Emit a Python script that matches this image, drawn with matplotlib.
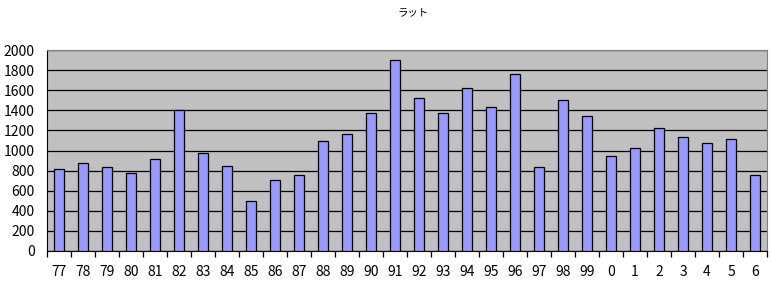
import matplotlib
matplotlib.use("Agg")
import matplotlib.pyplot as plt
import numpy as np

plt.rcParams['font.family'] = ['Noto Sans CJK JP', 'DejaVu Sans']

title = "ラット"
years = ["77", "78", "79", "80", "81", "82", "83", "84", "85", "86", "87", "88", "89", "90",
         "91", "92", "93", "94", "95", "96", "97", "98", "99", "0", "1", "2", "3", "4", "5", "6"]
values = [820, 880, 840, 780, 920, 1400, 980, 850, 500, 710, 760, 1090, 1160, 1370,
          1900, 1520, 1370, 1620, 1430, 1760, 840, 1500, 1340, 950, 1020, 1220, 1130, 1070, 1110, 760]
yticks = [0, 200, 400, 600, 800, 1000, 1200, 1400, 1600, 1800, 2000]

fig = plt.figure(figsize=(7.72, 2.85), dpi=100)
ax = fig.add_axes([47/772, 1 - 251/285, 720/772, 201/285])
ax.set_facecolor('#c0c0c0')
x = np.arange(len(years))
ax.bar(x, values, width=0.4, color='#9999ff', edgecolor='black', linewidth=0.9, zorder=3)
ax.set_xlim(-0.5, len(years) - 0.5)
ax.set_ylim(0, 2000)
ax.set_yticks(yticks)
ax.set_yticklabels([str(v) for v in yticks], fontsize=10)
ax.yaxis.grid(True, color='black', linewidth=0.9, zorder=1)
ax.set_axisbelow(True)
ax.set_xticks(x)
ax.set_xticklabels(years, fontsize=10)
ax.set_xticks(np.arange(-0.5, len(years)), minor=True)
ax.tick_params(axis='x', which='major', length=0, pad=10)
ax.tick_params(axis='x', which='minor', length=4, width=0.9, direction='out')
ax.tick_params(axis='y', length=0, pad=9)
for s in ['top', 'right']:
    ax.spines[s].set_color('#808080')
for s in ['left', 'bottom']:
    ax.spines[s].set_color('black')
fig.text(413/772, 1 - 12/285, title, fontsize=7.5, ha='center', va='center')
fig.savefig('out.png', dpi=100, facecolor='white')
